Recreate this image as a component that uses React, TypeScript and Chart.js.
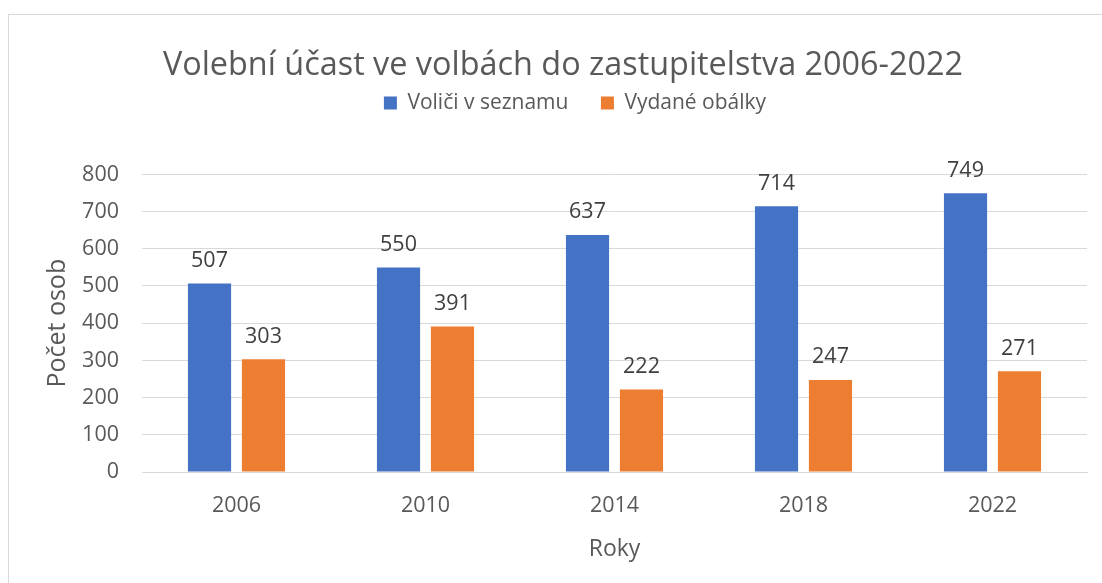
import React, { useEffect, useRef } from "react";
import { Chart, registerables } from "chart.js";

Chart.register(...registerables);

const titleText = "Volební účast ve volbách do zastupitelstva 2006-2022";
const categories = ["2006", "2010", "2014", "2018", "2022"];
const seriesNames = ["Voliči v seznamu", "Vydané obálky"];
const voters = [507, 550, 637, 714, 749];
const envelopes = [303, 391, 222, 247, 271];
const yTicks = [0, 100, 200, 300, 400, 500, 600, 700, 800];
const yTitle = "Počet osob";
const xTitle = "Roky";

const FONT = "'Open Sans', 'Segoe UI', sans-serif";
const TEXT = "#595959";

const dataLabels = {
  id: "dataLabels",
  afterDatasetsDraw(chart: any) {
    const ctx = chart.ctx;
    ctx.save();
    ctx.font = `21.5px ${FONT}`;
    ctx.fillStyle = "#404040";
    ctx.textAlign = "center";
    ctx.textBaseline = "bottom";
    chart.data.datasets.forEach((ds: any, di: number) => {
      const meta = chart.getDatasetMeta(di);
      meta.data.forEach((bar: any, i: number) => {
        ctx.fillText(String(ds.data[i]), bar.x, bar.y - 12);
      });
    });
    ctx.restore();
  },
};

const legendTweak = {
  id: "legendTweak",
  beforeLayout(chart: any) {
    const lg = chart.legend;
    if (!lg || lg._tweaked) return;
    lg._tweaked = true;
    const origFit = lg.fit.bind(lg);
    const origDraw = lg.draw.bind(lg);
    lg.fit = function () {
      origFit();
      this.height += 51;
    };
    lg.draw = function () {
      const ctx = chart.ctx;
      ctx.save();
      ctx.translate(12, 0);
      origDraw();
      ctx.restore();
    };
  },
};

export default function App() {
  const ref = useRef<HTMLCanvasElement>(null);
  useEffect(() => {
    if (!ref.current) return;
    const chart = new Chart(ref.current, {
      type: "bar",
      data: {
        labels: categories,
        datasets: [
          {
            label: seriesNames[0],
            data: voters,
            backgroundColor: "#4472C4",
            categoryPercentage: 0.571,
            barPercentage: 0.8,
          },
          {
            label: seriesNames[1],
            data: envelopes,
            backgroundColor: "#ED7D31",
            categoryPercentage: 0.571,
            barPercentage: 0.8,
          },
        ],
      },
      options: {
        animation: false,
        responsive: false,
        maintainAspectRatio: false,
        layout: { padding: { left: 30, right: 32, top: 0, bottom: 0 } },
        plugins: {
          title: {
            display: true,
            text: titleText,
            color: TEXT,
            font: { family: FONT, size: 32.4, weight: "normal" },
            padding: { top: 31, bottom: -25 },
          },
          legend: {
            display: true,
            labels: {
              color: TEXT,
              font: { family: FONT, size: 21 },
              boxWidth: 13,
              boxHeight: 13,
              padding: 32.5,
            },
          },
          tooltip: { enabled: false },
        },
        scales: {
          x: {
            grid: { display: false, drawTicks: false },
            border: { color: "#d9d9d9", width: 1 },
            ticks: { color: TEXT, font: { family: FONT, size: 21.5 }, padding: 21 },
            title: {
              display: true,
              text: xTitle,
              color: TEXT,
              font: { family: FONT, size: 23 },
              padding: { top: 0, bottom: 20 },
            },
            afterFit(scale: any) {
              scale.height = 111;
            },
          },
          y: {
            min: 0,
            max: 800,
            afterBuildTicks(scale: any) {
              scale.ticks = yTicks.map((v) => ({ value: v }));
            },
            grid: { color: "#d9d9d9", drawTicks: false },
            border: { display: false },
            ticks: { color: TEXT, font: { family: FONT, size: 21.5 }, padding: 23 },
            title: {
              display: true,
              text: yTitle,
              color: TEXT,
              font: { family: FONT, size: 25 },
              padding: { top: 4, bottom: 0 },
            },
            afterFit(scale: any) {
              scale.width = 103;
            },
          },
        },
      },
      plugins: [legendTweak, dataLabels],
    });
    return () => chart.destroy();
  }, []);

  return (
    <div
      style={{
        position: "absolute",
        left: 0,
        top: 0,
        width: 1102,
        height: 583,
        overflow: "hidden",
        background: "#fff",
      }}
    >
      <div
        style={{
          position: "absolute",
          left: 8,
          top: 14,
          width: 1110,
          height: 600,
          border: "1px solid #d9d9d9",
          background: "#fff",
        }}
      >
        <canvas ref={ref} width={1110} height={568} style={{ display: "block" }} />
      </div>
    </div>
  );
}
